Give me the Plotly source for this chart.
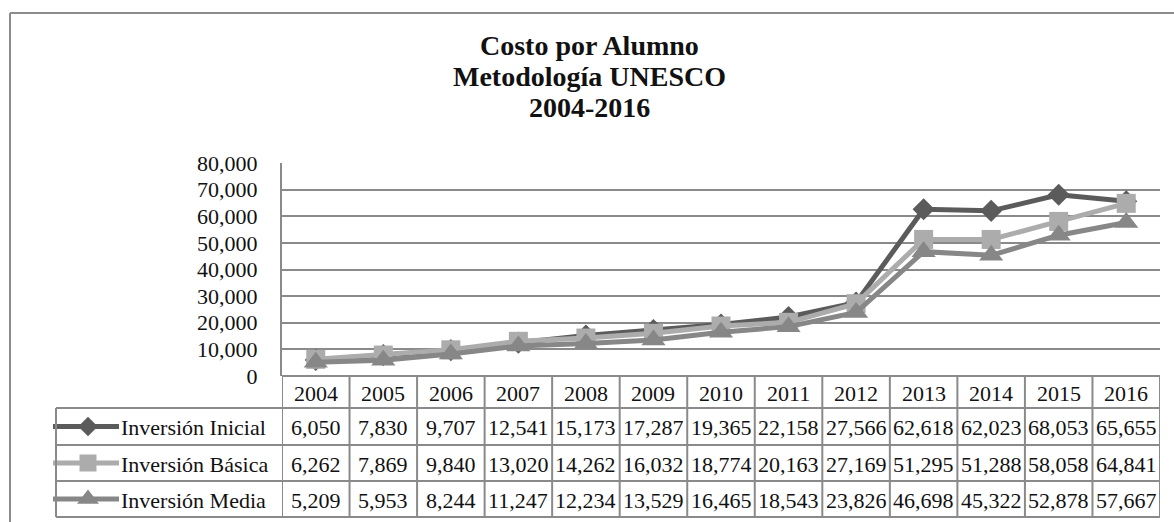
import plotly.graph_objects as go

years = ["2004", "2005", "2006", "2007", "2008", "2009", "2010", "2011", "2012", "2013", "2014", "2015", "2016"]
inicial = [6050, 7830, 9707, 12541, 15173, 17287, 19365, 22158, 27566, 62618, 62023, 68053, 65655]
basica = [6262, 7869, 9840, 13020, 14262, 16032, 18774, 20163, 27169, 51295, 51288, 58058, 64841]
media = [5209, 5953, 8244, 11247, 12234, 13529, 16465, 18543, 23826, 46698, 45322, 52878, 57667]
series_names = ["Inversión Inicial", "Inversión Básica", "Inversión Media"]
series_values = [inicial, basica, media]
series_colors = ["#5b5b5b", "#acacac", "#878787"]
series_symbols = ["diamond", "square", "triangle-up"]
series_sizes = [17, 19, 21]
title_lines = ["Costo por Alumno", "Metodología UNESCO", "2004-2016"]

W, H = 1174, 522
FONT = "Liberation Serif"
LINE = "#8a8a8a"
FS = 22


def fx(p):
    return p / W


def fy(p):
    return 1 - p / H


# pixel layout
PL, PR, PT, PB = 282, 1160, 163, 376
ROWS = [376, 408, 445, 481, 517]
LABEL_L = 56
TITLE_Y = [45, 76, 108]

fig = go.Figure()
xs = list(range(len(years)))
for name, vals, col, sym, sz in zip(series_names, series_values, series_colors, series_symbols, series_sizes):
    fig.add_trace(go.Scatter(
        x=xs, y=vals, mode="lines+markers", name=name,
        line=dict(color=col, width=5),
        marker=dict(symbol=sym, size=sz, color=col),
        showlegend=False, cliponaxis=False,
    ))

shapes = []
annotations = []
# outer border
shapes.append(dict(type="line", xref="paper", yref="paper", x0=fx(10), x1=fx(1174), y0=fy(13), y1=fy(13),
                   line=dict(color="#8c8c8c", width=2)))
shapes.append(dict(type="line", xref="paper", yref="paper", x0=fx(10), x1=fx(10), y0=fy(13), y1=fy(522),
                   line=dict(color="#8c8c8c", width=2)))
# table horizontal lines
shapes.append(dict(type="line", xref="paper", yref="paper", x0=fx(PL), x1=fx(PR), y0=fy(ROWS[0]), y1=fy(ROWS[0]),
                   line=dict(color=LINE, width=2)))
for r in ROWS[1:]:
    shapes.append(dict(type="line", xref="paper", yref="paper", x0=fx(LABEL_L), x1=fx(PR), y0=fy(r), y1=fy(r),
                       line=dict(color=LINE, width=2)))
# table vertical lines (cell boundaries at category edges)
for i in range(len(years) + 1):
    shapes.append(dict(type="line", xref="x", yref="paper", x0=i - 0.5, x1=i - 0.5, y0=fy(ROWS[0]), y1=fy(ROWS[-1]),
                       line=dict(color=LINE, width=2)))
shapes.append(dict(type="line", xref="paper", yref="paper", x0=fx(LABEL_L), x1=fx(LABEL_L), y0=fy(ROWS[1]), y1=fy(ROWS[-1]),
                   line=dict(color=LINE, width=2)))

# header text
for i, yr in enumerate(years):
    annotations.append(dict(x=i, y=fy((ROWS[0] + ROWS[1]) / 2 + 1), xref="x", yref="paper", text=yr, showarrow=False,
                            font=dict(family=FONT, size=FS, color="#111"), xanchor="center", yanchor="middle"))
# body
for k, (name, vals, col, sym, sz) in enumerate(zip(series_names, series_values, series_colors, series_symbols, series_sizes)):
    yc = fy((ROWS[k + 1] + ROWS[k + 2]) / 2 + 1)
    for i, v in enumerate(vals):
        annotations.append(dict(x=i, y=yc, xref="x", yref="paper", text=f"{v:,}", showarrow=False,
                                font=dict(family=FONT, size=FS, color="#111"), xanchor="center", yanchor="middle"))
    annotations.append(dict(x=fx(119), y=yc, xref="paper", yref="paper", text=name, showarrow=False,
                            font=dict(family=FONT, size=FS, color="#111"), xanchor="left", yanchor="middle"))
    # legend key
    ypx = (ROWS[k + 1] + ROWS[k + 2]) / 2
    fig.add_trace(go.Scatter(x=[53, 88, 119], y=[ypx, ypx, ypx], mode="lines", xaxis="x2", yaxis="y2",
                             line=dict(color=col, width=5), showlegend=False, hoverinfo="skip"))
    fig.add_trace(go.Scatter(x=[88], y=[ypx], mode="markers", xaxis="x2", yaxis="y2",
                             marker=dict(symbol=sym, size=sz - 2, color=col), showlegend=False, hoverinfo="skip"))

# title
for t, ty in zip(title_lines, TITLE_Y):
    annotations.append(dict(x=fx(590), y=fy(ty), xref="paper", yref="paper",
                            text=f"<b>{t}</b>", showarrow=False,
                            font=dict(family=FONT, size=28, color="#111"), xanchor="center", yanchor="middle"))

fig.update_layout(
    template="none",
    width=W, height=H, autosize=False,
    margin=dict(l=0, r=0, t=0, b=0, pad=0),
    paper_bgcolor="white", plot_bgcolor="rgba(0,0,0,0)",
    xaxis=dict(domain=[fx(PL), fx(PR)], range=[-0.5, len(years) - 0.5], showticklabels=False, showgrid=False,
               zeroline=False, ticks="", showline=False, fixedrange=True, automargin=False),
    yaxis=dict(domain=[fy(PB), fy(PT)], range=[0, 80000], dtick=10000, tickformat=",", showgrid=True,
               gridcolor=LINE, gridwidth=2, zeroline=False, showline=True, linecolor=LINE, linewidth=2,
               ticks="", ticklabelstandoff=18, automargin=False,
               tickfont=dict(family=FONT, size=FS, color="#111"), fixedrange=True),
    xaxis2=dict(domain=[0, 1], range=[0, W], visible=False, anchor="y2", fixedrange=True, automargin=False),
    yaxis2=dict(domain=[0, 1], range=[H, 0], visible=False, anchor="x2", fixedrange=True, automargin=False),
    shapes=shapes, annotations=annotations,
)

fig.write_html("out.html", config={"displayModeBar": False},
               post_script="document.body.style.margin='0';document.body.style.overflow='hidden';")
